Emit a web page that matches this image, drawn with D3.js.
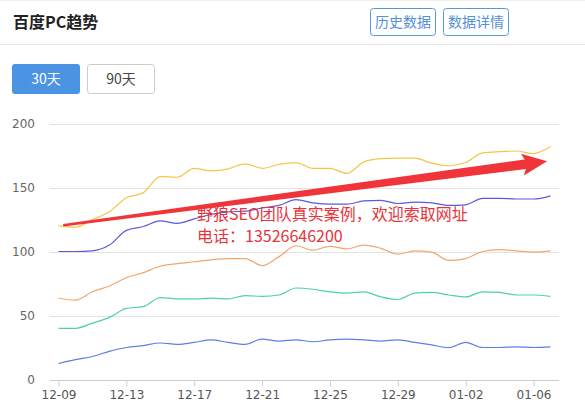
<!DOCTYPE html>
<html>
<head>
<meta charset="utf-8">
<script src="https://cdn.jsdelivr.net/npm/d3@7/dist/d3.min.js"></script>
<style>
  html, body { margin: 0; padding: 0; background: #fff; }
  svg { display: block; }
</style>
</head>
<body>
<svg id="chart" width="585" height="413"></svg>
<script>
// 30 days of Baidu PC trend data, 12-09 through 01-07
const days = [
  "12-09","12-10","12-11","12-12","12-13","12-14","12-15","12-16","12-17","12-18",
  "12-19","12-20","12-21","12-22","12-23","12-24","12-25","12-26","12-27","12-28",
  "12-29","12-30","12-31","01-01","01-02","01-03","01-04","01-05","01-06","01-07"
];
const yTicks = [0, 50, 100, 150, 200];

const seriesYellow = [120,119,125,131,142,146,158.5,158,165,163,164.5,168.5,165,168,169.5,165,165,161,170,172.5,173,173,169,167,169.5,177,178,178.5,176.5,182];
const seriesPurple = [100,100,100.5,105,116.5,119.5,124,122,125.5,129,131,131.5,134,136,140.5,138,137,137,139.5,140,137.5,138.5,138,136,136.5,141.5,141.5,141,141,143.5];
const seriesOrange = [63.5,62,68.5,73,79.5,83.5,88.5,90.5,92,93.5,94.5,94.5,89,96,104.5,101,104,102,105,102.5,98,100.5,99.5,93,94.5,100,101.5,100.5,99.5,100.5];
const seriesTeal   = [40,40,44,48.5,55.5,57,64,63,63,63.5,63,65.5,65,66,71.5,70.5,68.5,67.5,68.5,64.5,62.5,67.5,68,66,64.5,68.5,68,66,66,65];
const seriesBlue   = [12.5,15.5,18,22,25,26.5,28.5,27.5,29,31,29,27.5,31.5,30,31,29.5,31,31.5,31,30,31,29,27,25,29,25,25,25.5,25,25.5];

const seriesColors = ["#f3c64a", "#5b5bd6", "#f3a66a", "#4fd1a8", "#5b80e2"];
const allSeries = [seriesYellow, seriesPurple, seriesOrange, seriesTeal, seriesBlue];

// Trend annotation: start/end expressed as (day index, value)
const arrowFrom = [0.28, 120.5];
const arrowTo = [28.8, 170.5];
const noteLines = ["野狼SEO团队真实案例，欢迎索取网址", "电话：13526646200"];

const svg = d3.select("#chart");
const cjk = "'Noto Sans CJK SC', 'Noto Sans', sans-serif";

// ---------- header ----------
svg.append("line").attr("x1", 0).attr("x2", 585).attr("y1", 0.5).attr("y2", 0.5)
  .attr("stroke", "#eeeeee");
svg.append("line").attr("x1", 0).attr("x2", 585).attr("y1", 44.5).attr("y2", 44.5)
  .attr("stroke", "#e6e6e6");
svg.append("text").attr("x", 13).attr("y", 27.5)
  .attr("font-family", cjk).attr("font-size", 16).attr("font-weight", "bold")
  .attr("fill", "#222").text("百度PC趋势");

const headBtns = [{label: "历史数据", x: 370.5}, {label: "数据详情", x: 443.5}];
headBtns.forEach(b => {
  svg.append("rect").attr("x", b.x).attr("y", 8.5).attr("width", 65).attr("height", 27)
    .attr("rx", 3).attr("fill", "#fff").attr("stroke", "#5a96dc");
  svg.append("text").attr("x", b.x + 32.5).attr("y", 27)
    .attr("text-anchor", "middle").attr("font-family", cjk).attr("font-size", 14)
    .attr("fill", "#5590d8").text(b.label);
});

// ---------- range tabs ----------
svg.append("rect").attr("x", 12).attr("y", 64).attr("width", 68).attr("height", 30)
  .attr("rx", 3).attr("fill", "#4b93e3");
svg.append("text").attr("x", 46).attr("y", 84).attr("text-anchor", "middle")
  .attr("font-family", cjk).attr("font-size", 14).attr("fill", "#fff").text("30天");
svg.append("rect").attr("x", 87.5).attr("y", 64.5).attr("width", 67).attr("height", 29)
  .attr("rx", 3).attr("fill", "#fff").attr("stroke", "#cccccc");
svg.append("text").attr("x", 121).attr("y", 84).attr("text-anchor", "middle")
  .attr("font-family", cjk).attr("font-size", 14).attr("fill", "#444").text("90天");

// ---------- plot ----------
const plotLeft = 50, plotRight = 559, plotTop = 123.5, plotBottom = 379.5;

const x = d3.scalePoint().domain(days).range([plotLeft, plotRight]).padding(0.5);
const xi = d3.scaleLinear().domain([0, days.length - 1]).range([x(days[0]), x(days[days.length - 1])]);
const y = d3.scaleLinear().domain([0, 200]).range([plotBottom, plotTop]);

// horizontal grid
svg.append("g").selectAll("line").data(yTicks.filter(t => t > 0)).join("line")
  .attr("x1", plotLeft).attr("x2", plotRight)
  .attr("y1", d => Math.round(y(d)) + 0.5).attr("y2", d => Math.round(y(d)) + 0.5)
  .attr("stroke", "#e3e3e3");

// y axis labels
const yAxis = d3.axisLeft(y).tickValues(yTicks).tickSize(0).tickPadding(0);
const gy = svg.append("g").attr("transform", `translate(${plotLeft - 15},0)`).call(yAxis);
gy.select(".domain").remove();
gy.selectAll("text").attr("font-family", "'DejaVu Sans', sans-serif").attr("font-size", 12)
  .attr("fill", "#666");

// x axis
const shownDays = days.filter((d, i) => i % 4 === 0);
const xAxis = d3.axisBottom(x).tickValues(shownDays).tickSize(6).tickSizeOuter(0).tickPadding(4);
const gx = svg.append("g").attr("transform", `translate(0,${Math.round(plotBottom) + 0.5})`).call(xAxis);
gx.select(".domain").attr("d", `M${plotLeft},0H${plotRight}`).attr("stroke", "#cccccc");
gx.selectAll(".tick line").attr("stroke", "#cccccc");
gx.selectAll("text").attr("font-family", "'DejaVu Sans', sans-serif").attr("font-size", 12)
  .attr("fill", "#555");

// series lines
const line = d3.line()
  .x((d, i) => x(days[i]))
  .y(d => y(d))
  .curve(d3.curveMonotoneX);

svg.append("g").selectAll("path").data(allSeries).join("path")
  .attr("d", d => line(d))
  .attr("fill", "none")
  .attr("stroke", (d, i) => seriesColors[i])
  .attr("stroke-width", 1.2);

// ---------- trend arrow ----------
const ax0 = xi(arrowFrom[0]), ay0 = y(arrowFrom[1]);
const ax1 = xi(arrowTo[0]), ay1 = y(arrowTo[1]);
const len = Math.hypot(ax1 - ax0, ay1 - ay0);
const ux = (ax1 - ax0) / len, uy = (ay1 - ay0) / len;
const nx = -uy, ny = ux;
const headLen = 22, headHalf = 11, tailHalf = 1.2, neckHalf = 4.8;
const bx = ax1 - ux * headLen, by = ay1 - uy * headLen;
const pts = [
  [ax0 + nx * tailHalf, ay0 + ny * tailHalf],
  [bx + nx * neckHalf, by + ny * neckHalf],
  [bx + nx * headHalf - ux * 3, by + ny * headHalf - uy * 3],
  [ax1, ay1],
  [bx - nx * headHalf - ux * 3, by - ny * headHalf - uy * 3],
  [bx - nx * neckHalf, by - ny * neckHalf],
  [ax0 - nx * tailHalf, ay0 - ny * tailHalf]
];
svg.append("path").attr("d", "M" + pts.map(p => p.join(",")).join("L") + "Z")
  .attr("fill", "#f0353a");

// ---------- note text ----------
svg.append("g").selectAll("text").data(noteLines).join("text")
  .attr("x", 197).attr("y", (d, i) => 219.5 + i * 22)
  .attr("font-family", cjk).attr("font-size", 16)
  .attr("fill", "#e8333a").text(d => d);
</script>
</body>
</html>
